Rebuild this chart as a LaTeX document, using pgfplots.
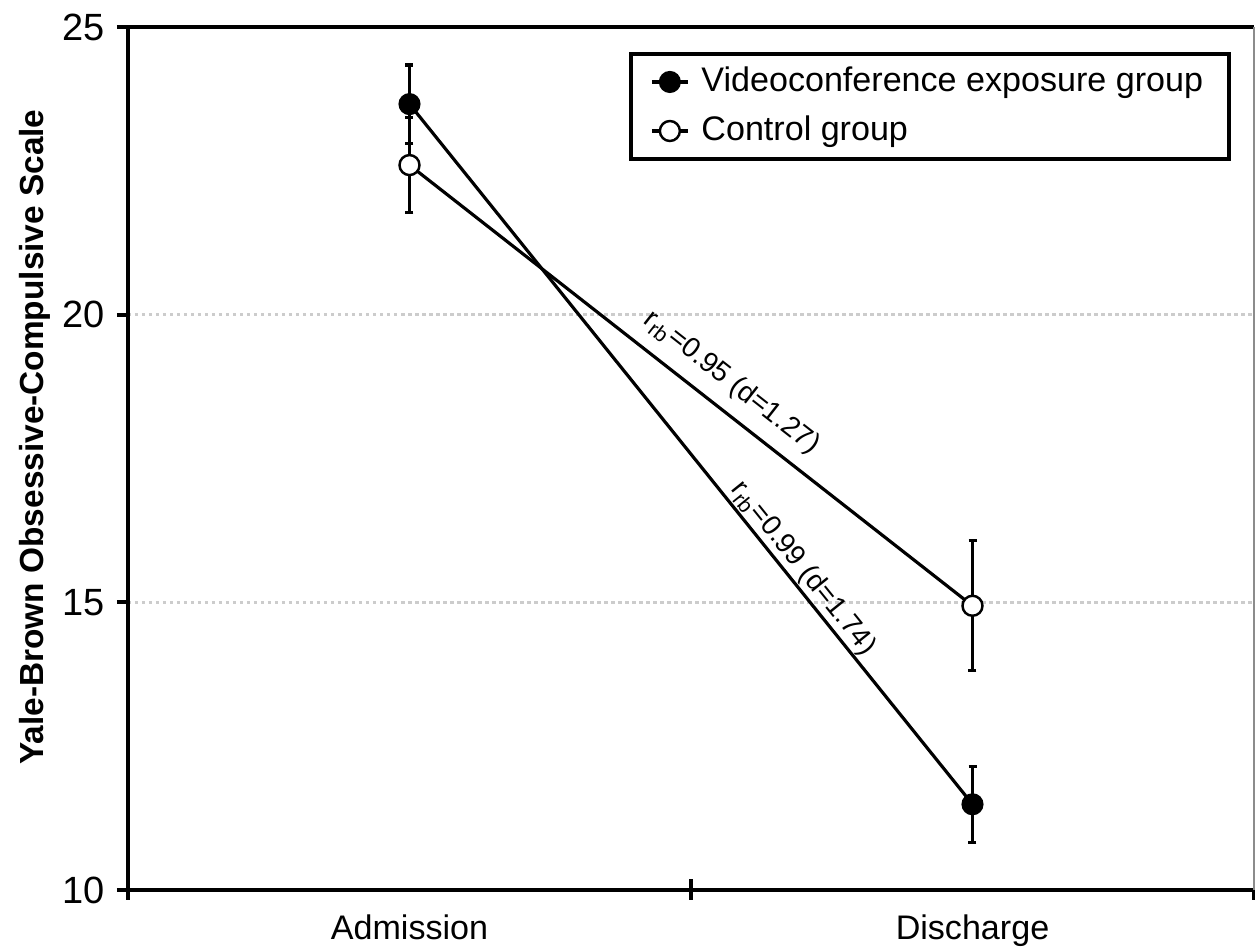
\documentclass[border=0pt]{standalone}
\usepackage{fontspec}
\setmainfont{Liberation Sans}
\usepackage{pgfplots}
\pgfplotsset{compat=1.18}
\begin{document}
\begin{tikzpicture}
\begin{axis}[
  at={(0,0)}, anchor=south west,
  scale only axis, width=112.6mm, height=86.3mm,
  xmin=0, xmax=2, ymin=10, ymax=25,
  clip=false,
  axis x line=bottom, axis y line=left,
  axis line style={-, line width=1.1pt, black},
  xtick={0.5,1.5}, xticklabels={Admission,Discharge},
  xtick style={draw=none},
  ytick={10,15,20,25},
  ytick style={line width=1.1pt, black},
  tick align=outside, major tick length=1.1mm,
  ymajorgrids,
  grid style={line width=0.75pt, color=black!20, dash pattern=on 0.35mm off 0.35mm},
  xticklabel style={font=\fontsize{9.7}{11}\selectfont, yshift=-0.1mm},
  yticklabel style={font=\fontsize{10.8}{12}\selectfont},
  /pgf/number format/assume math mode=true,
  ylabel={Yale-Brown Obsessive-Compulsive Scale},
  ylabel style={font=\bfseries\fontsize{9.5}{11}\selectfont, at={(axis description cs:-0.0826,0.525)}, anchor=center},
  legend style={at={(0.9796,0.971)}, anchor=north east, draw=black, line width=1.1pt,
    inner xsep=1.9mm, inner ysep=0.6mm, font=\fontsize{9.7}{11}\selectfont,
    row sep=0.5mm, cells={anchor=west}, nodes={inner xsep=0.7mm},
    /tikz/every odd column/.append style={column sep=0.5mm}},
  legend image code/.code={\draw[mark repeat=2,mark phase=2] plot coordinates {(0mm,0mm)(1.8mm,0mm)(3.6mm,0mm)};},
]
\addplot[black, line width=0.9pt, mark=*, mark size=1mm, mark options={solid, fill=black, line width=0.6pt},
  error bars/.cd, y dir=both, y explicit,
  error bar style={line width=0.9pt, black},
  error mark options={rotate=90, mark size=0.4mm, line width=0.9pt, black}]
  coordinates {(0.5,23.66) +- (0,0.68) (1.5,11.49) +- (0,0.66)};
\addlegendentry{Videoconference exposure group}
\addplot[black, line width=0.9pt, mark=*, mark size=1mm, mark options={solid, fill=white, draw=black, line width=0.7pt},
  error bars/.cd, y dir=both, y explicit,
  error bar style={line width=0.9pt, black},
  error mark options={rotate=90, mark size=0.4mm, line width=0.9pt, black}]
  coordinates {(0.5,22.60) +- (0,0.83) (1.5,14.94) +- (0,1.13)};
\addlegendentry{Control group}
\draw[line width=1.1pt] (rel axis cs:0,1) -- (rel axis cs:1,1);
\draw[line width=0.5pt, black!45] (rel axis cs:1,0) -- (rel axis cs:1,1);
\draw[line width=1.1pt] (axis cs:0,10) -- ([yshift=-1mm]axis cs:0,10);
\draw[line width=1.1pt] ([yshift=1.1mm]axis cs:1,10) -- ([yshift=-1mm]axis cs:1,10);
\draw[line width=1.1pt] (axis cs:2,10) -- ([yshift=-1mm]axis cs:2,10);
\node[rotate=-38.07, font=\fontsize{8}{9}\selectfont] at (axis cs:1.072,18.82) {r\textsubscript{rb}=0.95 (d=1.27)};
\node[rotate=-51.19, font=\fontsize{8}{9}\selectfont] at (axis cs:1.199,15.59) {r\textsubscript{rb}=0.99 (d=1.74)};
\end{axis}
\pgfresetboundingbox
\path (-12.8mm,-5.9mm) rectangle (112.7mm,89.0mm);
\end{tikzpicture}
\end{document}
